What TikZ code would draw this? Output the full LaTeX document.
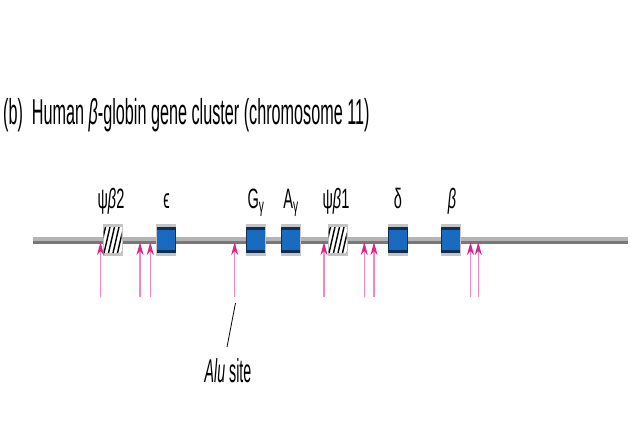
\documentclass[tikz,border=0pt]{standalone}
\usepackage{fontspec}
\setmainfont{Liberation Sans}
\newfontfamily\titlefont{Liberation Sans}[FakeStretch=0.45]
\newfontfamily\labelfont{Liberation Sans}[FakeStretch=0.52]
\newfontfamily\alufont{Liberation Sans}[FakeStretch=0.43]
\usetikzlibrary{arrows.meta}
\definecolor{genblue}{HTML}{1A6BBF}
\definecolor{gennavy}{HTML}{0E2F52}
\definecolor{capgray}{HTML}{C4C4C4}
\definecolor{lightline}{HTML}{B4B4B4}
\definecolor{darkline}{HTML}{787878}
\definecolor{sitemag}{HTML}{D6288A}
\definecolor{sitepink}{HTML}{F08CC4}
\tikzset{
  genepic/.pic={
    \fill[capgray] (-10,-16) rectangle (10,16);
    \fill[gennavy] (-9.7,-13) rectangle (9.7,13);
    \fill[genblue] (-8.9,-9.6) rectangle (8.9,9.6);
  },
  pseudopic/.pic={
    \fill[capgray] (-10,-16) rectangle (10,16);
    \fill[white] (-9,-13) rectangle (9,13);
    \begin{scope}
      \clip (-9,-13) rectangle (9,13);
      \foreach \k in {-10,-5.5,-1,3.5,8,12.5}
        \draw[black, line width=1.4pt] (\k-3,13) -- (\k+3,-13);
    \end{scope}
  },
  genelabel/.style={font=\labelfont\fontsize{28}{28}\selectfont, anchor=base, inner sep=0pt},
  rsite/.style={sitepink, line width=1.3pt, -{Stealth[length=13pt,width=7pt,inset=4pt,sitemag]}},
}
\begin{document}
\begin{tikzpicture}[x=1pt,y=-1pt]
\useasboundingbox (0,0) rectangle (632,424);
\fill[white] (0,0) rectangle (632,424);
% title
\node[anchor=base west, inner sep=0pt, font=\titlefont\fontsize{36}{36}\selectfont] (title) at (3,124.3)
  {(b)\ \ Human \textit{β}-globin gene cluster (chromosome 11)};
% chromosome line
\fill[lightline] (33,237) rectangle (628,240.5);
\fill[darkline] (33,240.5) rectangle (628,244);
% genes
\pic at (112.5,240) {pseudopic};
\pic at (166.3,240) {genepic};
\pic at (255.7,240) {genepic};
\pic at (290.7,240) {genepic};
\pic at (337.5,240) {pseudopic};
\pic at (398,240) {genepic};
\pic at (450.7,240) {genepic};
% labels
\node[genelabel] (lpsi2) at (111,208.5) {ψ\textit{β}2};
\node[genelabel] (leps) at (166.5,208.5) {ϵ};
\node[genelabel] (lG) at (256,208.5) {G\textsubscript{γ}};
\node[genelabel] (lA) at (291,208.5) {A\textsubscript{γ}};
\node[genelabel] (lpsi1) at (336,208.5) {ψ\textit{β}1};
\node[genelabel] (ldel) at (398,208.5) {δ};
\node[genelabel] (lbet) at (452,208.5) {\textit{β}};
% restriction sites
\foreach \n/\x in {1/100.5,2/140,3/150.3,4/234.7,5/324,6/364.3,7/374,8/470.5,9/478.3}{
  \coordinate (s\n b) at (\x,297);
  \coordinate (s\n t) at (\x,242);
  \draw[rsite] (s\n b) -- (s\n t);
}
% Alu label
\coordinate (alutop) at (235.5,303);
\node[font=\alufont\fontsize{33}{33}\selectfont, inner sep=0pt, anchor=base] (alu) at (228,382) {\textit{Alu} site};
\coordinate (alubot) at (227,347);
\draw[black, line width=0.8pt] (alutop) -- (alubot);
\end{tikzpicture}
\end{document}
